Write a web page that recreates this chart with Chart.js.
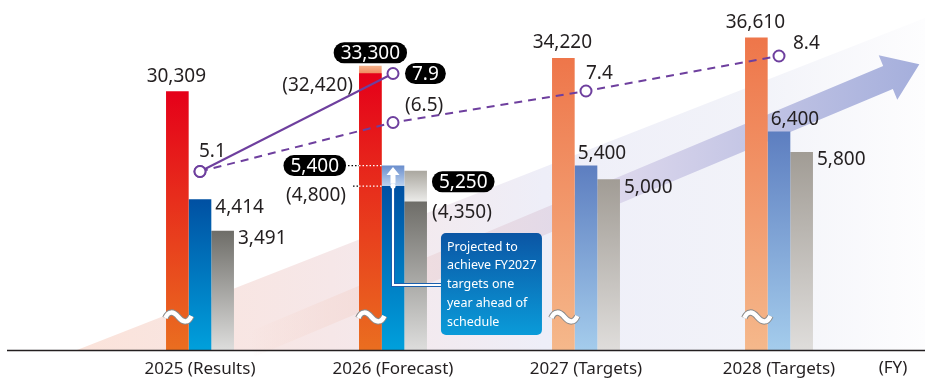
<!DOCTYPE html>
<html><head><meta charset="utf-8">
<script src="https://cdn.jsdelivr.net/npm/chart.js@4.4.1/dist/chart.umd.min.js"></script>
<style>html,body{margin:0;padding:0;background:#fff;overflow:hidden}canvas{display:block}</style>
</head><body>
<canvas id="c" width="925" height="378"></canvas>
<script>
// ---- data ----
const categories = ['2025 (Results)', '2026 (Forecast)', '2027 (Targets)', '2028 (Targets)'];
const netSales = [30309, 33300, 34220, 36610];
const netSalesPrevForecast = [null, 32420, null, null];
const operatingProfit = [4414, 5400, 5400, 6400];
const operatingProfitPrevForecast = [null, 4800, null, null];
const netIncome = [3491, 5250, 5000, 5800];
const netIncomePrevForecast = [null, 4350, null, null];
const roe = [5.1, 7.9, null, null];
const roePlan = [5.1, 6.5, 7.4, 8.4];
const calloutLines = ['Projected to', 'achieve FY2027', 'targets one', 'year ahead of', 'schedule'];
const unitLabel = '(FY)';

const FONT = '"Noto Sans", "Open Sans", sans-serif';
const TXT = '#231f20';
const PURPLE = '#6e3f9e';

const fmt = v => v.toLocaleString('en-US');

function grad(chart, axisId, topVal, botVal, cTop, cBot) {
  const s = chart.scales[axisId];
  const y0 = s.getPixelForValue(topVal);
  const y1 = botVal == null ? chart.chartArea.bottom : s.getPixelForValue(botVal);
  const g = chart.ctx.createLinearGradient(0, y0, 0, y1);
  g.addColorStop(0, cTop); g.addColorStop(1, cBot);
  return g;
}

function barColor(axisId, actual, target, cap, prevArr) {
  return (c) => {
    if (c.type !== 'data' || !c.chart.chartArea) return actual[0];
    const i = c.dataIndex, v = c.raw;
    if (v == null) return actual[0];
    if (prevArr && prevArr[i] != null) return grad(c.chart, axisId, v, prevArr[i], cap[0], cap[1]);
    const pal = i < 2 ? actual : target;
    return grad(c.chart, axisId, v, null, pal[0], pal[1]);
  };
}

const salesActual = ['#e50019', '#ea6e20'], salesTarget = ['#ee764a', '#f5b88b'], salesCap = ['#f6b38c', '#f08c60'];
const opActual = ['#0050a2', '#00a0dc'], opTarget = ['#5d7ec0', '#a4ccec'], opCap = ['#6a8ecd', '#bdd3ef'];
const niActual = ['#6e6d68', '#dddddc'], niTarget = ['#a19c95', '#dfdddb'], niCap = ['#aaa79f', '#ebebe9'];

function rr(ctx, x, y, w, h, r) {
  ctx.beginPath();
  ctx.moveTo(x + r, y); ctx.lineTo(x + w - r, y); ctx.arcTo(x + w, y, x + w, y + r, r);
  ctx.lineTo(x + w, y + h - r); ctx.arcTo(x + w, y + h, x + w - r, y + h, r);
  ctx.lineTo(x + r, y + h); ctx.arcTo(x, y + h, x, y + h - r, r);
  ctx.lineTo(x, y + r); ctx.arcTo(x, y, x + r, y, r); ctx.closePath();
}

function text(ctx, s, x, y, align) {
  ctx.font = '19px ' + FONT; ctx.fillStyle = TXT; ctx.textAlign = align || 'left'; ctx.textBaseline = 'middle';
  ctx.fillText(s, x, y);
}
function pill(ctx, s, x, y, align) {
  ctx.font = '19px ' + FONT;
  const w = ctx.measureText(s).width + 14, h = 21;
  const left = align === 'right' ? x - w : (align === 'center' ? x - w / 2 : x);
  ctx.fillStyle = '#000'; rr(ctx, left, y - h / 2, w, h, h / 2); ctx.fill();
  ctx.fillStyle = '#fff'; ctx.textAlign = 'center'; ctx.textBaseline = 'middle';
  ctx.fillText(s, left + w / 2, y + 1);
  return {left, right: left + w};
}
function dotted(ctx, x0, x1, y, color) {
  ctx.save(); ctx.strokeStyle = color; ctx.lineWidth = 1.3; ctx.setLineDash([1.5, 2]);
  ctx.beginPath(); ctx.moveTo(x0, y); ctx.lineTo(x1, y); ctx.stroke(); ctx.restore();
}
function tilde(ctx, cx, cy) {
  const p = () => { ctx.beginPath(); ctx.moveTo(cx - 13, cy + 1);
    ctx.bezierCurveTo(cx - 10, cy - 6, cx - 5, cy - 6, cx, cy);
    ctx.bezierCurveTo(cx + 5, cy + 6, cx + 10, cy + 6, cx + 13, cy - 1); };
  ctx.save(); ctx.lineCap = 'butt';
  p(); ctx.strokeStyle = '#8a8a8a'; ctx.lineWidth = 6.5; ctx.stroke();
  p(); ctx.strokeStyle = '#ffffff'; ctx.lineWidth = 4.5; ctx.stroke();
  ctx.restore();
}

const deco = {
  id: 'deco',
  beforeDatasetsDraw(chart) {
    const {ctx, chartArea: a, width} = chart;
    ctx.save();
    // background band
    ctx.beginPath(); ctx.moveTo(77, a.bottom); ctx.lineTo(width, 18); ctx.lineTo(width, a.bottom); ctx.closePath();
    let g = ctx.createLinearGradient(77, 0, width, 0);
    g.addColorStop(0, '#fbe3da'); g.addColorStop(0.3, '#f6e7e8'); g.addColorStop(0.55, '#eeeef8');
    g.addColorStop(0.8, '#f2f3f9'); g.addColorStop(1, '#fdfdfe');
    ctx.fillStyle = g; ctx.fill();
    // arrow
    const x0 = 250, y0 = 345, x1 = 888, y1 = 77.5;
    const len = Math.hypot(x1 - x0, y1 - y0), dx = (x1 - x0) / len, dy = (y1 - y0) / len;
    const px = -dy, py = dx, hw = 12.5, hh = 24, hl = 34;
    ctx.beginPath();
    ctx.moveTo(x0 + px * hw, y0 + py * hw); ctx.lineTo(x1 + px * hw, y1 + py * hw);
    ctx.lineTo(x1 + px * hh, y1 + py * hh); ctx.lineTo(x1 + dx * hl, y1 + dy * hl);
    ctx.lineTo(x1 - px * hh, y1 - py * hh); ctx.lineTo(x1 - px * hw, y1 - py * hw);
    ctx.lineTo(x0 - px * hw, y0 - py * hw); ctx.closePath();
    g = ctx.createLinearGradient(x0, 0, x1 + 30, 0);
    g.addColorStop(0, 'rgba(246,214,204,0)'); g.addColorStop(0.15, 'rgba(244,218,214,0.7)');
    g.addColorStop(0.55, '#dcd7ec'); g.addColorStop(1, '#a5afdc');
    ctx.fillStyle = g; ctx.fill();
    ctx.restore();
  },
  afterDatasetsDraw(chart) {
    const {ctx, chartArea: a, width} = chart;
    const S = chart.getDatasetMeta(0).data, SP = chart.getDatasetMeta(1).data;
    const O = chart.getDatasetMeta(2).data, OP = chart.getDatasetMeta(3).data;
    const N = chart.getDatasetMeta(4).data, NP = chart.getDatasetMeta(5).data;
    const R = chart.getDatasetMeta(6).data, RP = chart.getDatasetMeta(7).data;
    ctx.save();
    // axis-break marks
    for (let i = 0; i < categories.length; i++) tilde(ctx, S[i].x + 1, a.bottom - 33);
    // baseline
    ctx.strokeStyle = TXT; ctx.lineWidth = 1.5;
    ctx.beginPath(); ctx.moveTo(7, a.bottom + 0.5); ctx.lineTo(width, a.bottom + 0.5); ctx.stroke();
    // unit label
    ctx.font = '17px ' + FONT; ctx.fillStyle = TXT; ctx.textAlign = 'center'; ctx.textBaseline = 'middle';
    ctx.fillText(unitLabel, 893, a.bottom + 18);

    // callout + arrow for 2026 operating profit
    const ob = O[1], nb = N[1];
    const ax = ob.x, yTop = ob.y, yPrev = OP[1].y;
    const boxL = nb.x + nb.width / 2 + 14, boxT = 233, boxW = 101, boxH = 102;
    const yConn = 285;
    ctx.lineJoin = 'miter';
    ctx.beginPath(); ctx.moveTo(ax, yPrev); ctx.lineTo(ax, yConn); ctx.lineTo(boxL, yConn);
    ctx.strokeStyle = '#1b5fae'; ctx.lineWidth = 4; ctx.stroke();
    ctx.strokeStyle = '#ffffff'; ctx.lineWidth = 2; ctx.stroke();
    ctx.fillStyle = '#fff';
    ctx.beginPath(); ctx.arc(ax, yPrev, 2.6, 0, Math.PI * 2); ctx.fill();
    ctx.beginPath(); ctx.moveTo(ax, yTop + 1.5); ctx.lineTo(ax + 6.5, yTop + 9.5); ctx.lineTo(ax - 6.5, yTop + 9.5); ctx.closePath(); ctx.fill();
    ctx.fillRect(ax - 2.5, yTop + 9, 5, 9);
    let g = ctx.createLinearGradient(0, boxT, 0, boxT + boxH);
    g.addColorStop(0, '#0b55a4'); g.addColorStop(1, '#0a9bd9');
    ctx.fillStyle = g; rr(ctx, boxL, boxT, boxW, boxH, 5); ctx.fill();
    ctx.font = '12.5px ' + FONT; ctx.fillStyle = '#fff'; ctx.textAlign = 'left'; ctx.textBaseline = 'middle';
    calloutLines.forEach((s, k) => ctx.fillText(s, boxL + 6, boxT + 14 + k * 18.8));

    // sales labels
    for (let i = 0; i < netSales.length; i++) {
      const b = S[i];
      if (netSalesPrevForecast[i] != null) {
        pill(ctx, fmt(netSales[i]), b.x, b.y - 13, 'center');
        const p = SP[i];
        text(ctx, '(' + fmt(netSalesPrevForecast[i]) + ')', p.x - p.width / 2 - 6, p.y + 12, 'right');
      } else {
        text(ctx, fmt(netSales[i]), b.x - 1, b.y - 15, 'center');
      }
    }
    // operating profit labels
    for (let i = 0; i < operatingProfit.length; i++) {
      const b = O[i];
      if (operatingProfitPrevForecast[i] != null) {
        const edge = S[i].x - S[i].width / 2;
        const r = pill(ctx, fmt(operatingProfit[i]), edge - 13, b.y, 'right');
        dotted(ctx, r.right + 2, edge, b.y, '#000'); dotted(ctx, edge, b.x - b.width / 2, b.y, '#fff');
        const p = OP[i];
        text(ctx, '(' + fmt(operatingProfitPrevForecast[i]) + ')', edge - 13, p.y + 9, 'right');
        dotted(ctx, edge - 6, edge, p.y, '#000'); dotted(ctx, edge, b.x - b.width / 2, p.y, '#fff');
      } else if (i < 2) {
        text(ctx, fmt(operatingProfit[i]), b.x + b.width / 2 + 4, b.y + 8, 'left');
      } else {
        text(ctx, fmt(operatingProfit[i]), b.x - b.width / 2 + 3, b.y - 12, 'left');
      }
    }
    // net income labels
    for (let i = 0; i < netIncome.length; i++) {
      const b = N[i];
      const rx = b.x + b.width / 2;
      if (netIncomePrevForecast[i] != null) {
        pill(ctx, fmt(netIncome[i]), rx + 5, b.y + 11, 'left');
        text(ctx, '(' + fmt(netIncomePrevForecast[i]) + ')', rx + 5, NP[i].y + 11, 'left');
      } else {
        text(ctx, fmt(netIncome[i]), rx + 4, b.y + 8, 'left');
      }
    }
    // ROE labels
    text(ctx, roe[0].toFixed(1), R[0].x - 1, R[0].y - 20, 'left');
    pill(ctx, roe[1].toFixed(1), R[1].x + 12, R[1].y, 'left');
    text(ctx, '(' + roePlan[1].toFixed(1) + ')', RP[1].x + 12, RP[1].y - 17, 'left');
    text(ctx, roePlan[2].toFixed(1), RP[2].x, RP[2].y - 17, 'left');
    text(ctx, roePlan[3].toFixed(1), RP[3].x + 14, RP[3].y - 12, 'left');
    ctx.restore();
  }
};

const common = {borderWidth: 0, categoryPercentage: 0.352, barPercentage: 1};
new Chart(document.getElementById('c'), {
  type: 'bar',
  data: {
    labels: categories,
    datasets: [
      {...common, label: 'Net sales', data: netSales, stack: 'sales', yAxisID: 'y', order: 3,
        backgroundColor: barColor('y', salesActual, salesTarget, salesCap, netSalesPrevForecast)},
      {...common, label: 'Net sales (previous forecast)', data: netSalesPrevForecast, stack: 'sales', yAxisID: 'y', order: 2,
        backgroundColor: barColor('y', salesActual, salesTarget, salesCap, null)},
      {...common, label: 'Operating profit', data: operatingProfit, stack: 'op', yAxisID: 'y1', order: 3,
        backgroundColor: barColor('y1', opActual, opTarget, opCap, operatingProfitPrevForecast)},
      {...common, label: 'Operating profit (previous forecast)', data: operatingProfitPrevForecast, stack: 'op', yAxisID: 'y1', order: 2,
        backgroundColor: barColor('y1', opActual, opTarget, opCap, null)},
      {...common, label: 'Net income', data: netIncome, stack: 'net', yAxisID: 'y1', order: 3,
        backgroundColor: barColor('y1', niActual, niTarget, niCap, netIncomePrevForecast)},
      {...common, label: 'Net income (previous forecast)', data: netIncomePrevForecast, stack: 'net', yAxisID: 'y1', order: 2,
        backgroundColor: barColor('y1', niActual, niTarget, niCap, null)},
      {type: 'line', label: 'ROE', data: roe, yAxisID: 'y2', order: 0, borderColor: PURPLE, borderWidth: 2,
        pointRadius: 5.5, pointBorderWidth: 2, pointBackgroundColor: '#fff', pointBorderColor: PURPLE, tension: 0, clip: false},
      {type: 'line', label: 'ROE (plan)', data: roePlan, yAxisID: 'y2', order: 1, borderColor: PURPLE, borderWidth: 2,
        borderDash: [8, 6], pointRadius: 5.5, pointBorderWidth: 2, pointBackgroundColor: '#fff', pointBorderColor: PURPLE, tension: 0, clip: false}
    ]
  },
  options: {
    responsive: false, animation: false, devicePixelRatio: 1,
    layout: {autoPadding: false, padding: {left: 103.5, right: 49.5, top: 0, bottom: 0}},
    plugins: {legend: {display: false}, tooltip: {enabled: false}},
    scales: {
      x: {stacked: true, offset: true, grid: {display: false, drawTicks: false}, border: {display: false},
        ticks: {color: TXT, font: {family: FONT, size: 17}, padding: 9, maxRotation: 0},
        afterFit(scale) { scale.height = 28; }},
      y: {display: false, stacked: false, min: 0, max: 41000},
      y1: {display: false, stacked: false, min: 0, max: 10250},
      y2: {display: false, min: 0, max: 10}
    }
  },
  plugins: [deco]
});
</script>
</body></html>
